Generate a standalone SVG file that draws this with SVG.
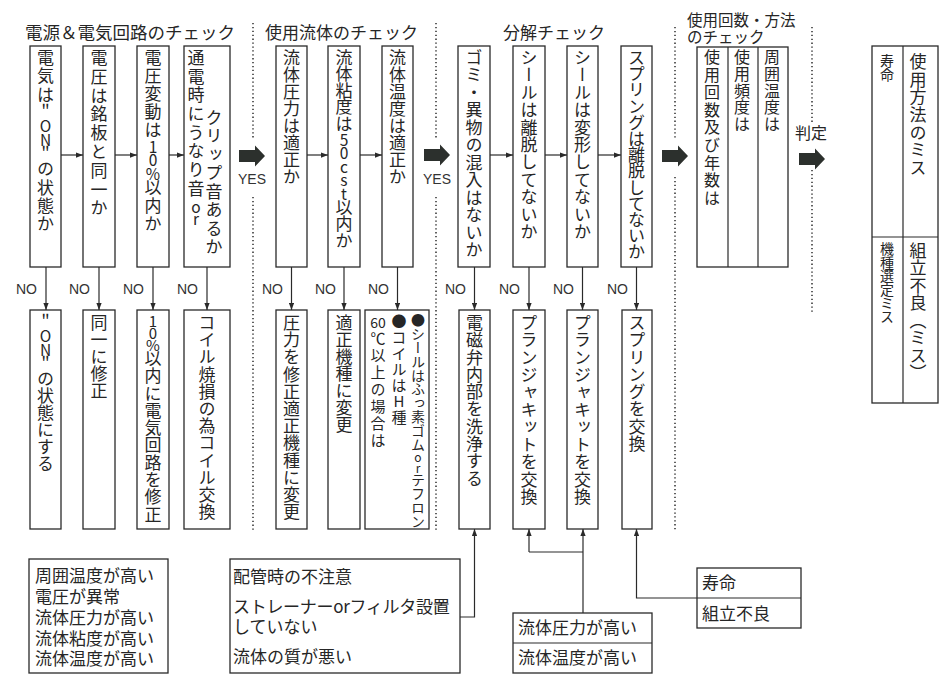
<svg xmlns="http://www.w3.org/2000/svg" width="941" height="686" viewBox="0 0 941 686">
<style>
.bx{fill:#fff;stroke:#2a2a2a;stroke-width:1.3}
.ln{fill:none;stroke:#2a2a2a;stroke-width:1.2}
.dot{fill:none;stroke:#3a3a3a;stroke-width:1.6;stroke-dasharray:1.3 2.6}
.v{font-family:"Noto Sans CJK JP","Noto Sans CJK SC",sans-serif;font-size:17px;writing-mode:vertical-rl;text-orientation:upright;fill:#262626}
.h{font-family:"Noto Sans CJK JP","Noto Sans CJK SC",sans-serif;font-size:17px;fill:#262626}
.lat{font-family:"Liberation Sans",Arial,sans-serif;font-size:14px;fill:#333}
.big{fill:#2c302d}
</style>
<defs>
<marker id="ah" viewBox="0 0 8 6" refX="8" refY="3" markerWidth="7" markerHeight="5.5" markerUnits="userSpaceOnUse" orient="auto">
<path d="M0,0 L8,3 L0,6 Z" fill="#2a2a2a"/>
</marker>
<path id="bigArrow" d="M0,-6 H16 V-10.5 L26,0 L16,10.5 V6 H0 Z"/>
</defs>
<rect width="941" height="686" fill="#fff"/>

<!-- section titles -->
<g id="titles">
<text class="h" x="25" y="39" style="font-size:17.5px">電源＆電気回路のチェック</text>
<text class="h" x="265" y="39">使用流体のチェック</text>
<text class="h" x="503" y="39">分解チェック</text>
<text class="h" x="687" y="26" style="font-size:15.5px">使用回数・方法</text>
<text class="h" x="687" y="43" style="font-size:15.5px">のチェック</text>
<text class="h" x="795" y="139" style="font-size:16px">判定</text>
</g>

<!-- dotted separators -->
<g id="separators">
<path class="dot" d="M253,23 V140 M253,197 V530"/>
<path class="dot" d="M436,23 V138 M436,197 V530"/>
<path class="dot" d="M675,27 V138 M675,177 V530"/>
<path class="dot" d="M812,27 V123 M812,170 V313"/>
</g>

<!-- big arrows -->
<g id="yes-arrows">
<use href="#bigArrow" class="big" x="239" y="156"/>
<text class="lat" x="252" y="184" text-anchor="middle">YES</text>
<use href="#bigArrow" class="big" x="424" y="155"/>
<text class="lat" x="437" y="184" text-anchor="middle">YES</text>
<use href="#bigArrow" class="big" x="662" y="156"/>
<use href="#bigArrow" class="big" x="799" y="159"/>
</g>

<!-- connectors -->
<g id="connectors">
<path class="ln" marker-end="url(#ah)" d="M61,155 H83"/>
<path class="ln" marker-end="url(#ah)" d="M115,155 H137"/>
<path class="ln" marker-end="url(#ah)" d="M169,155 H184"/>
<path class="ln" marker-end="url(#ah)" d="M307,155 H328"/>
<path class="ln" marker-end="url(#ah)" d="M360,155 H382"/>
<path class="ln" marker-end="url(#ah)" d="M490,155 H513"/>
<path class="ln" marker-end="url(#ah)" d="M545,155 H567"/>
<path class="ln" marker-end="url(#ah)" d="M598,155 H621"/>

<path class="ln" marker-end="url(#ah)" d="M46,267 V310"/>
<path class="ln" marker-end="url(#ah)" d="M99,267 V310"/>
<path class="ln" marker-end="url(#ah)" d="M153,267 V310"/>
<path class="ln" marker-end="url(#ah)" d="M207,267 V310"/>
<path class="ln" marker-end="url(#ah)" d="M291.5,267 V310"/>
<path class="ln" marker-end="url(#ah)" d="M344,267 V310"/>
<path class="ln" marker-end="url(#ah)" d="M397.5,267 V310"/>
<path class="ln" marker-end="url(#ah)" d="M474.5,267 V310"/>
<path class="ln" marker-end="url(#ah)" d="M529,267 V310"/>
<path class="ln" marker-end="url(#ah)" d="M582.5,267 V310"/>
<path class="ln" marker-end="url(#ah)" d="M636.5,267 V310"/>

<text class="lat" x="37" y="294" text-anchor="end">NO</text>
<text class="lat" x="90" y="294" text-anchor="end">NO</text>
<text class="lat" x="144" y="294" text-anchor="end">NO</text>
<text class="lat" x="198" y="294" text-anchor="end">NO</text>
<text class="lat" x="283" y="294" text-anchor="end">NO</text>
<text class="lat" x="336" y="294" text-anchor="end">NO</text>
<text class="lat" x="389" y="294" text-anchor="end">NO</text>
<text class="lat" x="466" y="294" text-anchor="end">NO</text>
<text class="lat" x="520" y="294" text-anchor="end">NO</text>
<text class="lat" x="574" y="294" text-anchor="end">NO</text>
<text class="lat" x="628" y="294" text-anchor="end">NO</text>

<path class="ln" marker-end="url(#ah)" d="M460,617 H474.5 V529"/>
<path class="ln" marker-end="url(#ah)" d="M529,552 V529"/>
<path class="ln" marker-end="url(#ah)" d="M583,613 V529"/>
<path class="ln" d="M529,552 H583"/>
<path class="ln" marker-end="url(#ah)" d="M697,598 H636.5 V529"/>
</g>

<!-- top question boxes -->
<g id="q1"><rect class="bx" x="30" y="46" width="31" height="221"/><text class="v" x="45.5" y="49" letter-spacing="1.4">電気は<tspan style="font-size:15.5px" letter-spacing="-1.5">＂ON＂</tspan>の状態か</text></g>
<g id="q2"><rect class="bx" x="83" y="46" width="32" height="221"/><text class="v" x="99" y="49" letter-spacing="1.8">電圧は銘板と同一か</text></g>
<g id="q3"><rect class="bx" x="137" y="46" width="32" height="221"/><text class="v" x="153" y="49" letter-spacing="1">電圧変動は<tspan style="font-size:15.5px" letter-spacing="-2">10%</tspan>以内か</text></g>
<g id="q4"><rect class="bx" x="184" y="46" width="46" height="221"/><text class="v" x="196" y="49" letter-spacing="1.7">通電時にうなり音<tspan style="font-size:15.5px" letter-spacing="-3">or</tspan></text><text class="v" x="214" y="109" letter-spacing="1.5">クリップ音あるか</text></g>
<g id="q5"><rect class="bx" x="276" y="46" width="31" height="221"/><text class="v" x="291.5" y="49">流体圧力は適正か</text></g>
<g id="q6"><rect class="bx" x="328" y="46" width="32" height="221"/><text class="v" x="344" y="49" letter-spacing="-0.5">流体粘度は<tspan style="font-size:15.5px" letter-spacing="-2">50cst</tspan>以内か</text></g>
<g id="q7"><rect class="bx" x="382" y="46" width="31" height="221"/><text class="v" x="397.5" y="49">流体温度は適正か</text></g>
<g id="q8"><rect class="bx" x="458" y="46" width="32" height="221"/><text class="v" x="474" y="49" letter-spacing="0.5">ゴミ・異物の混入はないか</text></g>
<g id="q9"><rect class="bx" x="513" y="46" width="32" height="221"/><text class="v" x="529" y="49" letter-spacing="0.4">シールは離脱してないか</text></g>
<g id="q10"><rect class="bx" x="567" y="46" width="31" height="221"/><text class="v" x="582.5" y="49" letter-spacing="0.4">シールは変形してないか</text></g>
<g id="q11"><rect class="bx" x="621" y="46" width="31" height="221"/><text class="v" x="636.5" y="49" letter-spacing="-0.8">スプリングは離脱してないか</text></g>

<!-- usage check -->
<g id="usage">
<rect class="bx" x="697" y="47" width="91" height="220"/>
<path class="ln" d="M728,47 V267 M758,47 V267"/>
<text class="v" x="712" y="49" style="font-size:16px" letter-spacing="1.6">使用回数及び年数は</text>
<text class="v" x="742" y="49" style="font-size:16px" letter-spacing="0.8">使用頻度は</text>
<text class="v" x="772" y="49" style="font-size:16px" letter-spacing="0.8">周囲温度は</text>
</g>

<!-- judgement table -->
<g id="judgement">
<rect class="bx" x="872" y="46" width="66" height="357"/>
<path class="ln" d="M903,46 V403 M872,237 H938"/>
<text class="v" x="887" y="54" style="font-size:14px">寿命</text>
<text class="v" x="918" y="53" letter-spacing="0.7">使用方法のミス</text>
<text class="v" x="887" y="242" style="font-size:14px" letter-spacing="-0.5">機種選定ミス</text>
<text class="v" x="918" y="242" letter-spacing="0.5">組立不良（ミス）</text>
</g>

<!-- answer boxes -->
<g id="a1"><rect class="bx" x="30" y="310" width="31" height="219"/><text class="v" x="45.5" y="314"><tspan style="font-size:15.5px" letter-spacing="-1.5">＂ON＂</tspan>の状態にする</text></g>
<g id="a2"><rect class="bx" x="83" y="310" width="32" height="219"/><text class="v" x="99" y="314">同一に修正</text></g>
<g id="a3"><rect class="bx" x="137" y="310" width="32" height="219"/><text class="v" x="153" y="314" letter-spacing="0.3"><tspan style="font-size:15px" letter-spacing="-3">10%</tspan>以内に電気回路を修正</text></g>
<g id="a4"><rect class="bx" x="184" y="310" width="46" height="219"/><text class="v" x="207" y="314" letter-spacing="0.2">コイル焼損の為コイル交換</text></g>
<g id="a5"><rect class="bx" x="276" y="310" width="31" height="219"/><text class="v" x="291.5" y="314" letter-spacing="0.2">圧力を修正適正機種に変更</text></g>
<g id="a6"><rect class="bx" x="328" y="310" width="32" height="219"/><text class="v" x="344" y="314">適正機種に変更</text></g>
<g id="a7"><rect class="bx" x="365" y="310" width="64" height="219"/>
<text class="v" x="418" y="313" style="font-size:14px" letter-spacing="-0.2">●シールはふっ素ゴム<tspan style="font-size:12px" letter-spacing="-1">or</tspan>テフロン</text>
<text class="v" x="399" y="314" style="font-size:15px" letter-spacing="1">●コイルはH種</text>
<text class="h" x="378" y="328" style="font-size:14px" text-anchor="middle">60</text>
<text class="v" x="378" y="331" style="font-size:15px" letter-spacing="2">℃以上の場合は</text>
</g>
<g id="a8"><rect class="bx" x="459" y="310" width="31" height="219"/><text class="v" x="474.5" y="314" letter-spacing="0.3">電磁弁内部を洗浄する</text></g>
<g id="a9"><rect class="bx" x="513" y="310" width="32" height="219"/><text class="v" x="529" y="314" letter-spacing="0.4">プランジャキットを交換</text></g>
<g id="a10"><rect class="bx" x="567" y="310" width="31" height="219"/><text class="v" x="582.5" y="314" letter-spacing="0.4">プランジャキットを交換</text></g>
<g id="a11"><rect class="bx" x="622" y="310" width="30" height="219"/><text class="v" x="637" y="314" letter-spacing="0.3">スプリングを交換</text></g>

<!-- cause boxes -->
<g id="cause-left">
<rect class="bx" x="29" y="559" width="139" height="114"/>
<text class="h" x="35" y="582">周囲温度が高い</text>
<text class="h" x="35" y="603">電圧が異常</text>
<text class="h" x="35" y="624">流体圧力が高い</text>
<text class="h" x="35" y="645">流体粘度が高い</text>
<text class="h" x="35" y="665">流体温度が高い</text>
</g>
<g id="cause-piping">
<rect class="bx" x="230" y="559" width="230" height="114"/>
<text class="h" x="233" y="583">配管時の不注意</text>
<text class="h" x="233" y="613" letter-spacing="-0.3">ストレーナーorフィルタ設置</text>
<text class="h" x="233" y="633">していない</text>
<text class="h" x="233" y="663">流体の質が悪い</text>
</g>
<g id="cause-fluid">
<rect class="bx" x="513" y="613" width="139" height="60"/>
<path class="ln" d="M513,643 H652"/>
<text class="h" x="518" y="634">流体圧力が高い</text>
<text class="h" x="518" y="664">流体温度が高い</text>
</g>
<g id="cause-life">
<rect class="bx" x="697" y="568" width="104" height="60"/>
<path class="ln" d="M697,598 H801"/>
<text class="h" x="702" y="589">寿命</text>
<text class="h" x="702" y="620">組立不良</text>
</g>
</svg>
